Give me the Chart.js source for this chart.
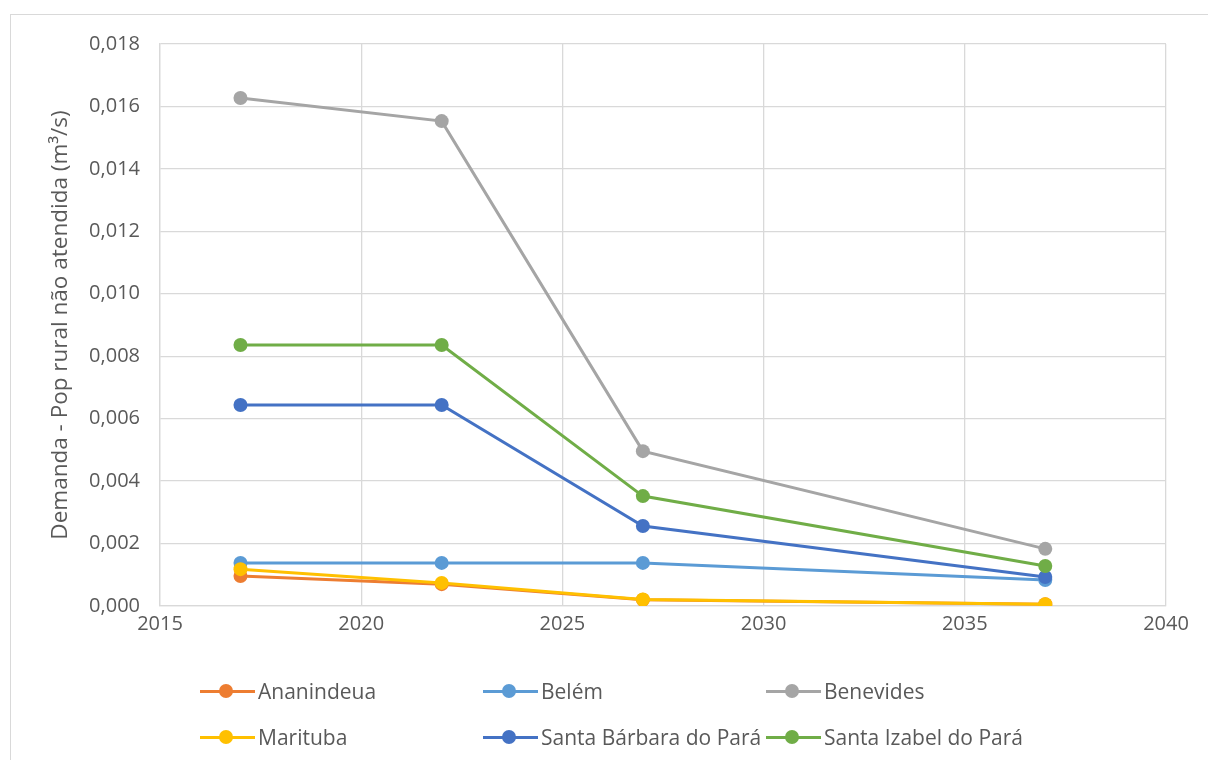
<!DOCTYPE html>
<html>
<head>
<meta charset="utf-8">
<script src="https://cdn.jsdelivr.net/npm/chart.js@4/dist/chart.umd.min.js"></script>
<style>
  html, body { margin: 0; padding: 0; background: #fff; }
  #wrap { position: relative; width: 1208px; height: 760px; overflow: hidden; font-family: "Open Sans", Lato, sans-serif; }
  #frame { position: absolute; left: 10px; top: 14px; width: 1240px; height: 800px; border: 1.5px solid #d9d9d9; box-sizing: border-box; }
  #c { position: absolute; left: 0; top: 0; }
  .item { position: absolute; height: 24px; display: flex; align-items: center; color: #595959; font-size: 21px; white-space: nowrap; }
  .mk { position: relative; width: 55px; height: 24px; margin-right: 3px; }
  .mk .ln { position: absolute; left: 0; right: 0; top: 10.5px; height: 3px; }
  .mk .dt { position: absolute; left: 19px; top: 5px; width: 14px; height: 14px; border-radius: 50%; }
</style>
</head>
<body>
<div id="wrap">
  <div id="frame"></div>
  <canvas id="c" width="1208" height="760"></canvas>
  <div id="legend"></div>
</div>
<script>
// Years of each observation
const years = [2017, 2022, 2027, 2037];

// Municipalities and their demand (m³/s) for unserved rural population
const seriesNames = ['Ananindeua', 'Belém', 'Benevides', 'Marituba', 'Santa Bárbara do Pará', 'Santa Izabel do Pará'];
const ananindeua   = [0.00096, 0.00070, 0.00020, 0.00006];
const belem        = [0.00138, 0.00138, 0.00138, 0.00083];
const benevides    = [0.01627, 0.01553, 0.00496, 0.00183];
const marituba     = [0.00118, 0.00074, 0.00021, 0.00006];
const santaBarbara = [0.00644, 0.00644, 0.00256, 0.00093];
const santaIzabel  = [0.00836, 0.00836, 0.00352, 0.00128];
const seriesValues = [ananindeua, belem, benevides, marituba, santaBarbara, santaIzabel];
const seriesColors = ['#ED7D31', '#5B9BD5', '#A5A5A5', '#FFC000', '#4472C4', '#70AD47'];

// Axis ranges
const xMin = 2015, xMax = 2040, xStep = 5;
const yMin = 0, yMax = 0.018, yStep = 0.002;
const yTitle = 'Demanda - Pop rural não atendida (m³/s)';

const FONT = '"Open Sans", Lato, sans-serif';
const TEXT = '#595959';
const GRID = '#d9d9d9';

// Draw order: later series paint over earlier ones
const datasets = seriesNames.map((name, i) => ({
  label: name,
  data: years.map((y, j) => ({ x: y, y: seriesValues[i][j] })),
  borderColor: seriesColors[i],
  backgroundColor: seriesColors[i],
  borderWidth: 3,
  pointRadius: 7,
  pointHoverRadius: 7,
  pointBorderWidth: 0,
  tension: 0,
  order: seriesNames.length - i
}));

new Chart(document.getElementById('c'), {
  type: 'line',
  data: { datasets },
  options: {
    responsive: false,
    animation: false,
    layout: { padding: { top: 44, right: 42, bottom: 104, left: 47 } },
    plugins: { legend: { display: false }, tooltip: { enabled: false } },
    scales: {
      x: {
        type: 'linear',
        min: xMin, max: xMax,
        ticks: {
          stepSize: xStep,
          color: TEXT,
          font: { family: FONT, size: 20 },
          padding: 6,
          callback: v => String(v)
        },
        grid: { color: GRID, lineWidth: 1.3, drawTicks: false },
        border: { color: GRID, width: 1.3 },
        afterFit: s => { s.height = 50; }
      },
      y: {
        min: yMin, max: yMax,
        ticks: {
          stepSize: yStep,
          color: TEXT,
          font: { family: FONT, size: 20 },
          padding: 20,
          callback: v => v.toFixed(3).replace('.', ',')
        },
        grid: { color: GRID, lineWidth: 1.3, drawTicks: false },
        border: { color: GRID, width: 1.3 },
        title: {
          display: true,
          text: yTitle,
          color: TEXT,
          font: { family: FONT, size: 22.5 },
          padding: { top: 0, bottom: 0 }
        },
        afterFit: s => { s.width = 113; }
      }
    }
  }
});

// Legend laid out in a 3-column grid beneath the plot
const legend = document.getElementById('legend');
const colX = [200, 483, 766];
const rowY = [679, 725];
seriesNames.forEach((name, i) => {
  const item = document.createElement('div');
  item.className = 'item';
  item.style.left = colX[i % 3] + 'px';
  item.style.top = rowY[Math.floor(i / 3)] + 'px';
  item.innerHTML = '<span class="mk"><span class="ln" style="background:' + seriesColors[i] +
    '"></span><span class="dt" style="background:' + seriesColors[i] + '"></span></span>';
  const t = document.createElement('span');
  t.textContent = name;
  item.appendChild(t);
  legend.appendChild(item);
});
</script>
</body>
</html>
